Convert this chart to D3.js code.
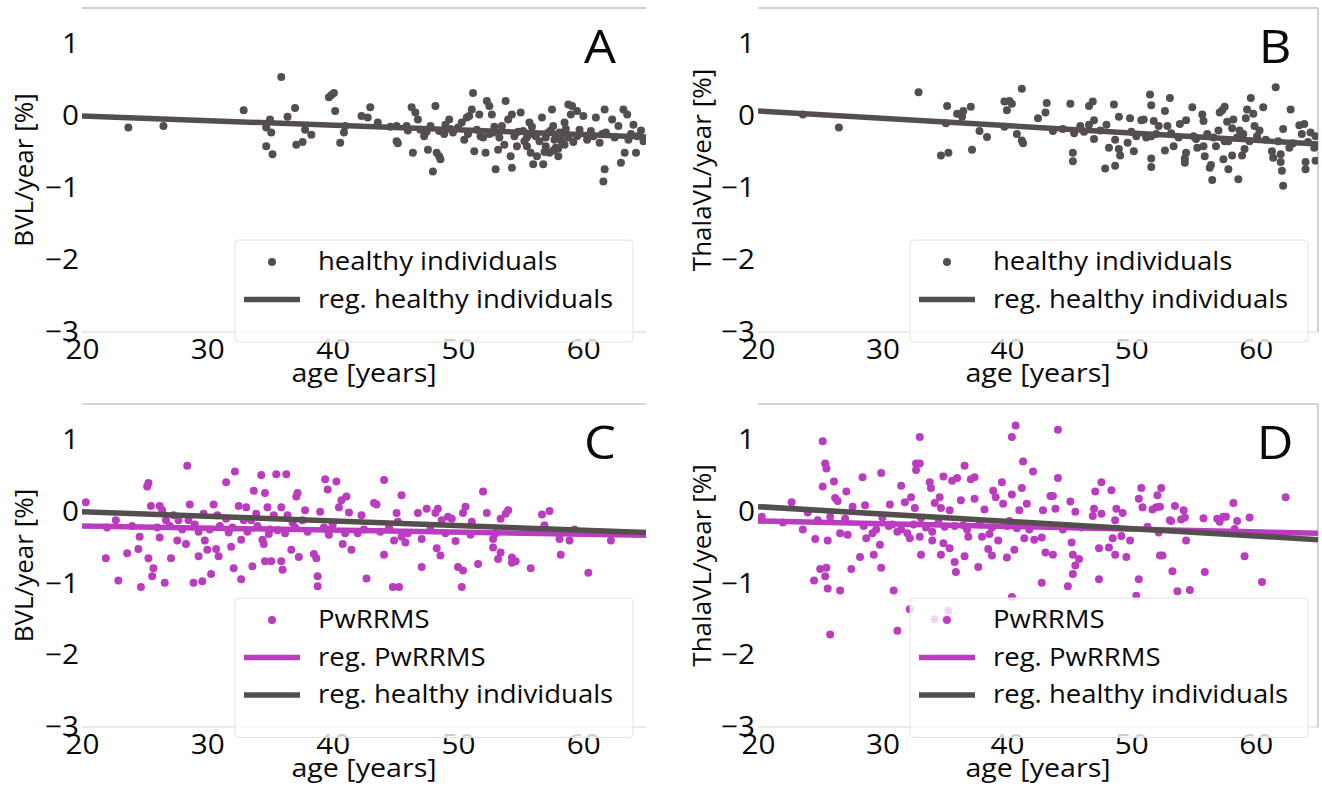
<!DOCTYPE html>
<html><head><meta charset="utf-8">
<script src="https://cdn.jsdelivr.net/npm/d3@7"></script>
<style>
body{margin:0;background:#fff}
svg{display:block}
text{font-family:'Open Sans','Noto Sans',sans-serif;fill:#0a0a0a}
</style>
</head><body>
<svg id="chart" width="1322" height="788"></svg>
<script>
// ---------------- data ----------------
const xTicks = [20, 30, 40, 50, 60];
const yTicks = [1, 0, -1, -2, -3];
const xDomain = [20, 65];
const yDomain = [-3, 1.5];
const panelLetters = ["A", "B", "C", "D"];
const yLabels = ["BVL/year [%]", "ThalaVL/year [%]", "BVL/year [%]", "ThalaVL/year [%]"];
const xLabel = "age [years]";
const seriesNames = ["healthy individuals", "reg. healthy individuals", "PwRRMS", "reg. PwRRMS"];

// healthy individuals, brain volume loss per year [age, %]
const healthyBVL = [
[23.7,-0.16],[26.5,-0.14],[32.9,0.08],[35.9,0.54],[34.7,-0.42],[35.2,-0.53],[34.7,-0.16],[35.0,-0.05],[35.1,-0.23],[36.4,-0.01],
[37.0,0.11],[37.1,-0.40],[37.6,-0.36],[37.8,-0.19],[38.3,-0.26],[39.7,0.26],[39.9,0.29],[40.1,0.32],[40.2,0.07],[40.6,-0.37],
[40.9,-0.23],[41.0,-0.14],[42.3,0.0],[43.0,0.12],[42.8,-0.02],[43.6,-0.09],[45.1,-0.14],[45.1,-0.35],[45.2,-0.38],[45.9,-0.14],
[46.3,0.12],[46.4,-0.51],[46.6,0.05],[46.8,-0.05],[47.0,-0.19],[47.3,-0.28],[47.6,-0.47],[48.0,-0.77],[48.2,0.14],[47.8,-0.14],
[48.3,-0.51],[48.5,-0.56],[48.6,-0.60],[48.5,-0.21],[49.0,-0.12],[49.3,-0.05],[49.6,-0.23],[50.0,-0.16],[50.3,-0.09],[50.5,-0.33],
[50.7,-0.02],[50.9,0.0],[51.1,0.09],[51.2,0.32],[51.3,-0.49],[51.5,-0.19],[51.7,0.02],[52.0,-0.30],[52.2,-0.51],[52.3,0.21],
[52.5,0.14],[52.7,0.02],[52.8,-0.23],[53.0,-0.74],[53.2,-0.47],[53.5,-0.14],[53.8,0.21],[54.0,-0.05],[54.2,-0.56],[54.3,-0.72],
[54.3,0.02],[54.5,-0.28],[54.7,-0.42],[55.0,0.05],[55.2,-0.21],[55.5,-0.42],[55.7,-0.09],[55.8,-0.51],[56.0,-0.67],[56.2,-0.28],
[56.3,-0.56],[56.7,-0.02],[56.8,-0.67],[57.0,-0.42],[57.2,-0.23],[57.3,-0.51],[57.5,0.09],[57.6,-0.14],[57.7,-0.33],[57.8,-0.44],
[58.0,-0.56],[58.1,-0.23],[58.3,-0.37],[58.5,-0.09],[58.8,0.16],[59.0,0.02],[59.1,0.14],[59.5,0.07],[59.7,-0.19],[60.0,0.0],
[60.3,-0.33],[60.6,-0.21],[61.0,-0.02],[61.3,-0.37],[61.6,-0.91],[61.7,-0.74],[61.7,0.09],[61.8,-0.23],[62.3,-0.05],[62.8,-0.14],
[63.0,-0.65],[63.2,0.09],[63.3,-0.51],[63.5,0.02],[63.6,-0.33],[64.0,-0.12],[64.2,-0.51],[64.3,-0.28],
[52.5,-0.25],[53.3,-0.30],[54.8,-0.22],[55.5,-0.30],[56.0,-0.25],[56.5,-0.35],[57.0,-0.30],[57.4,-0.20],[57.8,-0.27],[58.2,-0.32],
[58.5,-0.40],[58.8,-0.30],[59.2,-0.36],[59.5,-0.28],[57.6,-0.48],[58.0,-0.45],[56.9,-0.50],[55.3,-0.35],[50.8,-0.25],[51.8,-0.28],
[49.4,-0.18],[48.9,-0.25],[47.5,-0.22],[46.0,-0.20],[44.6,-0.15],[60.8,-0.28],[61.5,-0.25],[62.5,-0.30],[63.8,-0.25],[64.6,-0.20],
[64.8,-0.35],[53.7,-0.40],[52.9,-0.15],[55.9,-0.15],[58.6,-0.18]
];

// healthy individuals, thalamic volume loss per year [age, %]
const healthyThal = [
[23.6,0.02],[26.5,-0.16],[32.9,0.33],[35.2,0.14],[35.1,-0.10],[34.7,-0.55],[35.3,-0.51],[36.0,0.03],[36.5,0.07],[36.4,-0.01],
[37.1,0.13],[37.2,-0.47],[37.8,-0.21],[38.4,-0.29],[39.8,0.20],[40.2,0.21],[40.4,0.17],[40.0,0.08],[39.8,-0.15],[40.8,-0.25],
[41.2,-0.34],[41.3,-0.38],[41.2,0.38],[42.5,-0.03],[43.2,0.18],[43.1,0.05],[43.7,-0.21],[45.1,0.17],[45.3,-0.51],[45.3,-0.63],
[45.4,-0.24],[45.9,-0.14],[46.6,0.14],[46.9,0.20],[46.6,-0.12],[47.0,-0.32],[47.0,-0.06],[47.9,-0.73],[48.0,-0.12],[48.2,-0.44],
[48.6,0.16],[48.7,-0.69],[48.7,-0.33],[49.0,-0.46],[49.0,-0.01],[49.1,-0.55],[49.7,-0.37],[49.9,-0.03],[50.2,-0.49],[50.4,-0.28],
[50.8,-0.06],[51.0,-0.05],[51.5,0.30],[51.6,0.15],[51.6,-0.59],[51.6,-0.71],[51.6,-0.28],[51.8,-0.07],[52.2,-0.14],[52.7,0.07],
[52.7,-0.48],[52.9,-0.14],[53.1,0.25],[53.2,-0.24],[53.4,-0.42],[53.9,-0.11],[54.3,-0.59],[54.3,-0.65],[54.4,-0.06],[54.4,-0.51],
[54.9,0.12],[55.0,-0.28],[55.3,-0.44],[55.7,0.02],[55.8,-0.07],[55.8,-0.42],[55.9,-0.56],[56.1,-0.25],[56.3,-0.72],[56.4,-0.68],
[56.5,-0.89],[56.8,-0.42],[57.0,-0.20],[57.1,0.05],[57.3,0.08],[57.4,-0.60],[57.5,-0.35],[57.5,0.13],[57.7,-0.08],[57.8,-0.74],
[58.1,-0.17],[58.2,-0.05],[58.1,-0.55],[58.6,-0.88],[58.7,-0.20],[58.9,-0.55],[59.0,-0.25],[59.1,-0.46],[59.2,-0.03],[59.3,0.09],
[59.6,0.25],[59.8,0.03],[59.9,-0.14],[60.1,-0.28],[60.3,-0.20],[60.6,0.12],[61.3,-0.49],[61.4,-0.58],[61.6,0.40],[62.0,-0.53],
[62.0,-0.64],[62.1,-0.76],[62.2,-0.97],[62.2,-0.18],[62.7,-0.44],[62.8,0.09],[63.5,-0.13],[63.7,-0.25],[63.9,-0.11],[64.0,-0.64],
[64.0,-0.74],[64.4,-0.23],[64.7,-0.44],[64.8,-0.62],[64.8,-0.28],
[44.5,-0.18],[46.2,-0.22],[47.5,-0.20],[50.0,-0.22],[51.2,-0.30],[52.0,-0.25],[53.8,-0.30],[55.2,-0.32],[56.6,-0.30],[57.8,-0.35],
[58.5,-0.30],[59.5,-0.35],[60.8,-0.33],[61.8,-0.35],[63.0,-0.38],[64.2,-0.36]
];

// PwRRMS, brain volume loss per year [age, %]
const rrmsBVL = [
[20.3,0.13],[28.4,0.64],[25.3,0.40],[25.2,0.35],[22.7,-0.12],[21.9,-0.65],[22.9,-0.96],[23.6,-0.58],[24.5,-0.52],[24.6,-0.35],
[24.7,-1.05],[25.3,-0.65],[25.5,0.08],[25.7,-0.79],[25.6,-0.90],[26.2,0.08],[26.2,-0.36],[26.4,0.02],[26.6,-0.99],[26.7,-0.12],
[27.1,-0.65],[27.3,-0.05],[27.6,-0.40],[27.7,-0.12],[28.3,-0.45],[28.5,-0.12],[28.6,0.10],[28.9,-0.99],[29.3,-0.62],[29.3,-0.28],
[29.6,-0.97],[29.7,-0.03],[29.8,-0.40],[30.0,-0.53],[30.3,-0.87],[30.5,0.10],[30.7,-0.52],[30.8,-0.05],[30.9,-0.62],[31.5,0.41],
[31.7,-0.29],[31.9,-0.49],[32.1,-0.79],[32.2,0.56],[32.5,0.08],[32.7,-0.94],[32.7,-0.39],[32.9,-0.12],[33.1,0.06],[33.6,-0.76],
[33.7,0.29],[33.9,-0.03],[34.3,0.51],[34.4,-0.39],[34.5,-0.45],[34.6,0.26],[34.6,-0.69],[34.8,0.06],[34.9,-0.31],[35.1,-0.69],
[35.3,-0.05],[35.5,0.52],[35.6,-0.26],[35.9,0.06],[35.9,-0.69],[36.0,-0.81],[36.3,0.52],[36.4,-0.05],[36.7,-0.53],[37.1,0.21],
[37.2,0.26],[37.3,-0.63],[37.6,-0.12],[37.8,0.02],[38.5,-0.59],[38.7,-0.65],[38.8,-0.90],[38.8,-1.04],[39.0,0.0],[39.3,-0.22],
[39.4,0.45],[39.6,0.31],[39.7,-0.32],[40.3,0.42],[40.5,0.06],[40.7,0.16],[40.8,-0.45],[41.1,0.21],[41.3,-0.01],[41.5,-0.53],
[42.0,-0.30],[42.3,-0.05],[44.1,0.44],[42.7,-0.93],[43.3,0.12],[43.5,0.10],[44.1,-0.60],[44.9,-0.40],[44.8,-1.05],[45.3,-1.05],
[45.1,-0.02],[45.2,-0.14],[45.5,0.23],[45.8,-0.43],[46.8,-0.02],[47.1,-0.77],[47.1,-0.38],[47.5,0.04],[48.2,-0.02],[48.4,0.04],
[48.3,-0.51],[48.6,-0.61],[48.7,-0.12],[49.2,-0.07],[49.5,-0.10],[49.8,-0.41],[50.0,-0.77],[50.4,-0.82],[50.3,-1.05],[50.4,-0.02],
[50.6,0.07],[51.1,-0.14],[51.6,-0.73],[52.0,0.28],[52.3,-0.02],[52.8,-0.50],[52.8,-0.38],[53.2,-0.66],[53.4,-0.57],[53.4,-0.10],
[53.8,-0.03],[54.0,0.02],[54.3,-0.64],[54.3,-0.71],[54.6,-0.69],[55.8,-0.79],[56.7,-0.04],[57.3,0.01],[56.9,-0.19],[58.1,-0.38],
[58.2,-0.60],[58.9,-0.40],[59.3,-0.25],[60.4,-0.85],[62.2,-0.40],
[30.2,-0.25],[31.0,-0.20],[32.0,-0.22],[33.2,-0.28],[34.0,-0.20],[35.0,-0.25],[36.2,-0.30],[37.0,-0.22],[38.0,-0.28],[39.5,-0.25],
[41.0,-0.30],[42.5,-0.25],[43.8,-0.28],[44.5,-0.22],[46.0,-0.30],[47.8,-0.25],[49.0,-0.30],[27.0,-0.20],[28.0,-0.25],[29.0,-0.18],
[26.0,-0.22],[24.0,-0.20],[22.0,-0.22],[40.0,-0.18],[36.8,-0.15],[33.5,-0.12],[31.5,-0.10],[45.5,-0.35],[51.0,-0.32],[53.0,-0.30]
];

// PwRRMS, thalamic volume loss per year [age, %]
const rrmsThal = [
[20.3,-0.07],[22.7,0.13],[23.6,-0.25],[24.0,-0.01],[24.6,-0.38],[24.5,-0.96],[25.0,-0.80],[25.2,0.98],[25.4,0.67],[25.5,0.60],
[25.2,0.35],[25.5,-0.78],[25.4,-0.90],[25.6,-1.07],[25.6,-0.40],[25.8,-0.07],[25.8,-1.71],[26.1,0.42],[26.2,0.19],[26.4,0.15],
[26.6,-0.30],[26.6,-1.10],[27.1,0.28],[27.2,-0.32],[27.6,0.07],[27.5,-0.80],[28.2,-0.63],[28.4,0.48],[28.6,0.09],[28.7,-0.37],
[29.3,-0.60],[29.2,-0.30],[29.9,0.54],[29.9,-0.78],[29.8,-0.46],[30.6,0.10],[30.8,-0.18],[30.9,-1.10],[31.2,-1.66],[31.2,-0.28],
[31.5,0.36],[31.8,0.13],[32.2,-0.37],[32.3,0.20],[32.6,0.05],[32.7,0.67],[33.0,0.67],[32.7,0.58],[33.0,1.04],[33.1,-0.60],
[33.1,-0.09],[33.8,0.41],[33.9,0.33],[34.0,-0.28],[34.2,0.12],[34.6,0.20],[34.7,0.05],[34.7,-0.60],[34.9,-0.44],[34.9,0.49],
[35.0,-0.21],[35.4,0.02],[35.4,-0.51],[35.6,0.43],[35.8,-0.70],[35.9,-0.84],[36.0,0.47],[36.3,0.16],[36.5,-0.19],[36.6,-0.62],
[36.6,0.64],[36.9,-0.35],[37.1,0.45],[37.4,0.48],[37.4,0.18],[37.7,-0.77],[38.2,0.03],[38.5,-0.52],[38.6,-0.31],[38.8,-0.61],
[38.9,0.29],[39.1,0.20],[39.3,-0.40],[39.6,0.41],[39.7,0.11],[40.0,-0.64],[40.2,-0.13],[40.4,-1.19],[40.4,0.24],[40.6,-0.53],
[40.8,-0.23],[41.0,0.02],[41.2,0.33],[41.3,0.70],[40.7,1.20],[40.4,1.04],[41.4,-0.37],[41.6,0.11],[42.1,0.56],[42.2,-0.39],
[44.1,1.14],[44.1,0.47],[42.9,0.02],[43.1,-0.57],[43.5,0.22],[43.7,0.22],[43.7,-0.60],[43.9,0.04],[42.8,-0.36],[42.8,-0.99],
[44.9,-1.04],[45.1,0.14],[45.2,-0.43],[45.3,-0.60],[45.3,-0.87],[45.5,0.0],[45.5,-0.75],[45.8,-0.66],[46.9,-0.06],[47.0,0.04],
[47.1,0.28],[47.4,-0.51],[47.4,-0.94],[47.6,0.41],[47.6,-0.03],[48.2,-0.50],[48.4,0.30],[48.5,-0.37],[48.7,-0.12],[48.8,0.04],
[48.7,-0.60],[49.2,-0.34],[49.3,-0.02],[49.6,-0.63],[49.9,-0.40],[50.4,-1.17],[50.6,-0.94],[50.6,0.18],[50.8,0.33],[50.9,0.06],
[51.3,-0.21],[51.7,0.03],[52.0,0.06],[52.1,0.23],[52.2,-0.29],[52.3,0.07],[52.3,-0.61],[52.5,-0.61],[52.4,0.33],[53.1,-0.12],
[53.2,-0.13],[53.3,-0.83],[53.5,0.08],[53.7,-1.11],[54.0,-0.11],[54.2,0.02],[54.3,-0.08],[54.4,-0.40],[54.7,-1.09],[55.8,-0.09],
[55.9,-0.84],[56.9,-0.10],[57.1,-0.14],[57.4,-0.07],[57.6,-0.07],[58.2,0.12],[58.3,-0.24],[58.5,-0.13],[59.1,-0.62],[59.5,-0.08],
[60.5,-0.98],[62.4,0.20],
[32.2,-1.36],[34.2,-1.50],[35.3,-1.38],[35.1,-1.50],[43.2,-1.46],
[28.5,-0.20],[29.5,-0.25],[30.5,-0.20],[31.5,-0.25],[32.5,-0.18],[33.5,-0.22],[34.5,-0.15],[35.8,-0.20],[36.8,-0.25],[37.8,-0.18],
[38.8,-0.22],[40.0,-0.20],[41.8,-0.25],[43.2,-0.20],[44.5,-0.25],[46.0,-0.22],[22.0,-0.15],[24.8,-0.12],[27.0,-0.10],[30.0,-0.08],
[32.0,-0.30],[33.0,-0.35],[34.0,-0.40],[38.0,-0.35]
];

// regression lines (end points at age 20 and 65)
const regHealthyBVL = [[20, 0.0], [65, -0.29]];
const regHealthyThal = [[20, 0.07], [65, -0.39]];
const regRrmsBVL = [[20, -0.20], [65, -0.33]];
const regRrmsThal = [[20, -0.13], [65, -0.30]];

// ---------------- styling / layout ----------------
const GRAY = "#544e4e", MAG = "#ba3cbf";
const SX = 1.1; // horizontal stretch of the original figure text

const panels = [
  {letter: panelLetters[0], left: 82, right: 646, top: 8, bottom: 332, ylabel: yLabels[0], ylabX: 33,
   pts: healthyBVL, ptColor: GRAY, regs: [{d: regHealthyBVL, c: GRAY}], rightSpine: false,
   legend: {x: 235, y: 240, w: 398, items: [{type: "dot", c: GRAY, t: seriesNames[0]}, {type: "line", c: GRAY, t: seriesNames[1]}]}},
  {letter: panelLetters[1], left: 758, right: 1318, top: 8, bottom: 332, ylabel: yLabels[1], ylabX: 711,
   pts: healthyThal, ptColor: GRAY, regs: [{d: regHealthyThal, c: GRAY}], rightSpine: true,
   legend: {x: 910, y: 240, w: 398, items: [{type: "dot", c: GRAY, t: seriesNames[0]}, {type: "line", c: GRAY, t: seriesNames[1]}]}},
  {letter: panelLetters[2], left: 82, right: 646, top: 404, bottom: 727, ylabel: yLabels[2], ylabX: 33,
   pts: rrmsBVL, ptColor: MAG, regs: [{d: regRrmsBVL, c: MAG}, {d: regHealthyBVL, c: GRAY}], rightSpine: false,
   legend: {x: 235, y: 598, w: 398, items: [{type: "dot", c: MAG, t: seriesNames[2]}, {type: "line", c: MAG, t: seriesNames[3]}, {type: "line", c: GRAY, t: seriesNames[1]}]}},
  {letter: panelLetters[3], left: 758, right: 1318, top: 404, bottom: 727, ylabel: yLabels[3], ylabX: 711,
   pts: rrmsThal, ptColor: MAG, regs: [{d: regRrmsThal, c: MAG}, {d: regHealthyThal, c: GRAY}], rightSpine: true,
   legend: {x: 910, y: 598, w: 398, items: [{type: "dot", c: MAG, t: seriesNames[2]}, {type: "line", c: MAG, t: seriesNames[3]}, {type: "line", c: GRAY, t: seriesNames[1]}]}}
];

const svg = d3.select("#chart");

function stretchedText(g, x, y, str, size, anchor) {
  return g.append("text")
    .attr("transform", `translate(${x},${y}) scale(${SX},1)`)
    .attr("font-size", size)
    .attr("text-anchor", anchor || "start")
    .text(str);
}

panels.forEach((p, i) => {
  const g = svg.append("g");
  const x = d3.scaleLinear().domain(xDomain).range([p.left, p.right]);
  const y = d3.scaleLinear().domain(yDomain).range([p.bottom, p.top]);
  const clipId = "clip" + i;
  svg.append("clipPath").attr("id", clipId).append("rect")
    .attr("x", p.left).attr("y", p.top).attr("width", p.right - p.left).attr("height", p.bottom - p.top);

  // spines
  g.append("line").attr("x1", p.left).attr("x2", p.right).attr("y1", p.top).attr("y2", p.top)
    .attr("stroke", "#c4c4c4").attr("stroke-width", 1.5);
  g.append("line").attr("x1", p.left).attr("x2", p.right).attr("y1", p.bottom).attr("y2", p.bottom)
    .attr("stroke", "#e4e4e4").attr("stroke-width", 1.5);
  if (p.rightSpine) {
    g.append("line").attr("x1", p.right).attr("x2", p.right).attr("y1", p.top).attr("y2", p.bottom)
      .attr("stroke", "#c4c4c4").attr("stroke-width", 1.5);
  }

  const plot = g.append("g").attr("clip-path", `url(#${clipId})`);
  // points
  plot.selectAll("circle.pt").data(p.pts).join("circle")
    .attr("class", "pt")
    .attr("cx", d => x(d[0])).attr("cy", d => y(d[1])).attr("r", 4)
    .attr("fill", p.ptColor);
  // regression lines
  const line = d3.line().x(d => x(d[0])).y(d => y(d[1]));
  p.regs.forEach(r => {
    plot.append("path").attr("d", line(r.d)).attr("fill", "none")
      .attr("stroke", r.c).attr("stroke-width", 5.5);
  });

  // axes
  const xAxis = g.append("g").attr("transform", `translate(0,${p.bottom})`)
    .call(d3.axisBottom(x).tickValues(xTicks).tickFormat(d3.format("d")).tickSize(0).tickPadding(8));
  const yAxis = g.append("g").attr("transform", `translate(${p.left},0)`)
    .call(d3.axisLeft(y).tickValues(yTicks).tickFormat(d3.format("d")).tickSize(0).tickPadding(3));
  [xAxis, yAxis].forEach(a => {
    a.select(".domain").remove();
    a.selectAll("text").attr("font-size", 27).attr("fill", "#0a0a0a")
      .attr("font-family", "'Open Sans','Noto Sans',sans-serif")
      .attr("transform", `scale(${SX},1)`);
  });
  yAxis.selectAll("text").attr("x", -3 / SX);

  // axis labels
  stretchedText(g, (p.left + p.right) / 2, p.bottom + 50, xLabel, 26, "middle");
  g.append("text")
    .attr("transform", `translate(${p.ylabX},${(p.top + p.bottom) / 2}) rotate(-90)`)
    .attr("font-size", 26).attr("text-anchor", "middle").text(p.ylabel);

  // panel letter
  stretchedText(g, p.letter === "A" || p.letter === "C" ? 600 : 1275, p.top + 55, p.letter, 46, "middle");

  // legend
  const L = p.legend;
  const rowH = 37.5;
  const h = 20 + rowH * L.items.length + 7;
  const lg = g.append("g");
  lg.append("rect").attr("x", L.x).attr("y", L.y).attr("width", L.w).attr("height", h)
    .attr("rx", 4).attr("fill", "#fff").attr("fill-opacity", 0.8)
    .attr("stroke", "#e2e2e2").attr("stroke-width", 1);
  L.items.forEach((it, k) => {
    const cy = L.y + 22 + k * rowH;
    if (it.type === "dot") {
      lg.append("circle").attr("cx", L.x + 37).attr("cy", cy).attr("r", 4).attr("fill", it.c);
    } else {
      lg.append("line").attr("x1", L.x + 9).attr("x2", L.x + 65).attr("y1", cy).attr("y2", cy)
        .attr("stroke", it.c).attr("stroke-width", 5.5);
    }
    stretchedText(lg, L.x + 83, cy + 8, it.t, 25, "start");
  });
});
</script>
</body></html>
